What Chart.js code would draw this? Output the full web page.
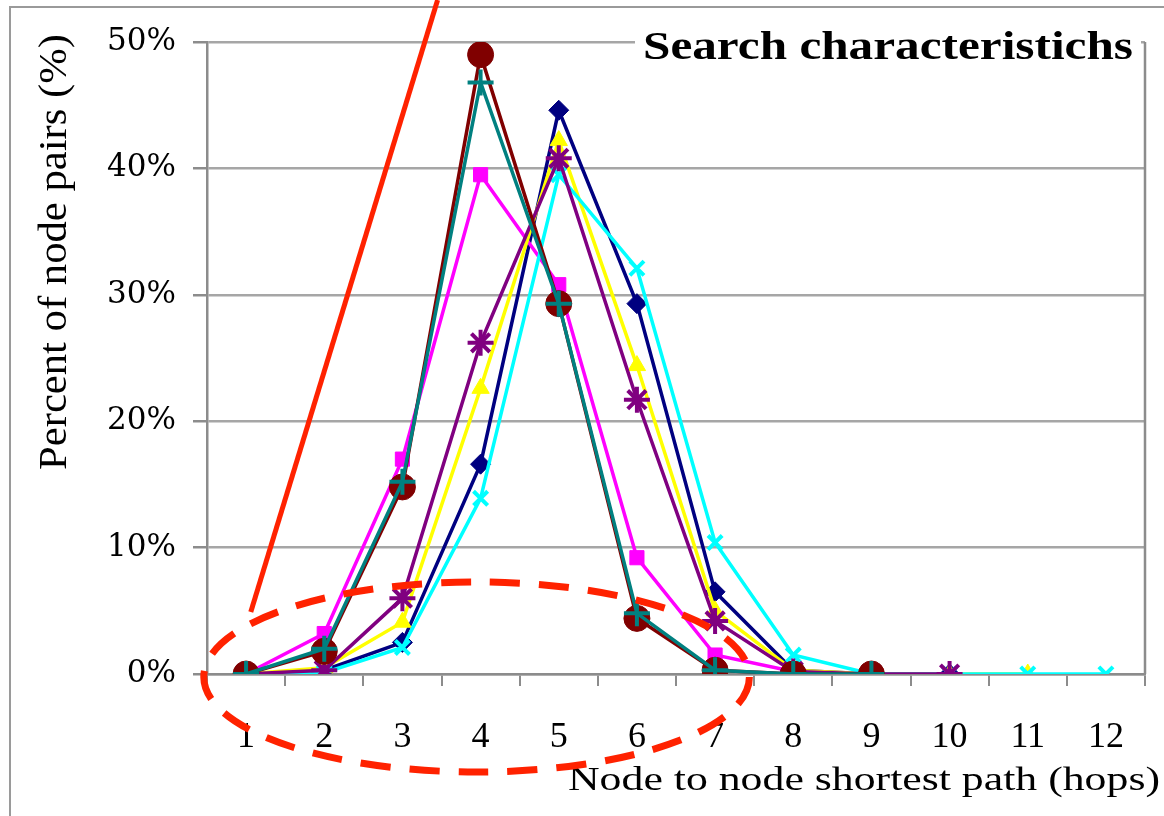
<!DOCTYPE html>
<html>
<head>
<meta charset="utf-8">
<script src="https://cdn.jsdelivr.net/npm/chart.js@4"></script>
<style>
  html, body { margin: 0; padding: 0; background: #ffffff; }
  #wrap { width: 1164px; height: 816px; position: relative; }
</style>
</head>
<body>
<div id="wrap"><canvas id="c" width="1164" height="816"></canvas></div>
<script>
// ---- data ----
const categories = ['1','2','3','4','5','6','7','8','9','10','11','12'];
const seriesNavy    = [0, 0.3, 2.5, 16.6, 44.6, 29.3, 6.5, 0.3, 0, 0, null, null];
const seriesMagenta = [0, 3.2, 17.0, 39.5, 30.8, 9.2, 1.5, 0.2, 0, null, null, null];
const seriesYellow  = [0, 0.5, 4.1, 22.6, 42.2, 24.4, 5.0, 0.3, 0, 0, 0, null];
const seriesCyan    = [0, 0.1, 2.1, 13.9, 39.5, 32.1, 10.4, 1.5, 0, 0, 0, 0];
const seriesPurple  = [0, 0.3, 6.0, 26.2, 40.8, 21.7, 4.2, 0.2, 0, 0, null, null];
const seriesMaroon  = [0, 1.8, 14.8, 49.0, 29.3, 4.4, 0.3, 0, 0, null, null, null];
const seriesTeal    = [0, 2.0, 15.2, 46.8, 29.3, 4.8, 0.3, 0, 0, null, null, null];
const yTicks = [0, 10, 20, 30, 40, 50];
const chartTitle = 'Search characteristichs';
const yTitle = 'Percent of node pairs (%)';
const xTitle = 'Node to node shortest path (hops)';

const SERIF = '"Liberation Serif", "Times New Roman", serif';
const WIDE_SERIF = '"DejaVu Serif", "Liberation Serif", serif';

function ds(data, color, style, radius, idx) {
  return {
    data: data,
    borderColor: color,
    backgroundColor: color,
    pointBackgroundColor: color,
    pointBorderColor: color,
    pointStyle: style,
    pointRadius: radius,
    pointBorderWidth: (style === 'cross' || style === 'crossRot' || style === 'star') ? 4 : 1,
    borderWidth: 3.5,
    tension: 0,
    spanGaps: false,
    order: 10 - idx
  };
}

const datasets = [
  ds(seriesNavy,    '#000080', 'rectRot',  10, 0),
  ds(seriesMagenta, '#FF00FF', 'rect',     10, 1),
  ds(seriesYellow,  '#FFFF00', 'triangle', 10, 2),
  ds(seriesCyan,    '#00FFFF', 'crossRot', 10, 3),
  ds(seriesPurple,  '#800080', 'star',     13, 4),
  ds(seriesMaroon,  '#800000', 'circle',   13, 5),
  ds(seriesTeal,    '#008080', 'cross',    13, 6)
];

// draw text stretched horizontally to a target width (the source chart's text is wide)
function stretchedText(ctx, text, x, y, font, targetWidth, align) {
  ctx.save();
  ctx.font = font;
  const w = ctx.measureText(text).width;
  const s = targetWidth / w;
  ctx.textBaseline = 'middle';
  ctx.textAlign = 'left';
  let left = x;
  if (align === 'right') left = x - targetWidth;
  else if (align === 'center') left = x - targetWidth / 2;
  ctx.translate(left, y);
  ctx.scale(s, 1);
  ctx.fillText(text, 0, 0);
  ctx.restore();
}

const overlay = {
  id: 'overlay',
  beforeDraw(chart) {
    const ctx = chart.ctx;
    ctx.save();
    ctx.fillStyle = '#ffffff';
    ctx.fillRect(0, 0, chart.width, chart.height);
    // outer chart frame
    ctx.strokeStyle = '#9a9a9a';
    ctx.lineWidth = 2;
    ctx.strokeRect(10, 7, chart.width + 20, chart.height + 20);
    ctx.restore();
  },
  afterDatasetsDraw(chart) {
    const ctx = chart.ctx;
    const xs = chart.scales.x, ys = chart.scales.y;
    const a = chart.chartArea;
    ctx.save();
    // plot-area border (right side)
    ctx.strokeStyle = '#8c8c8c';
    ctx.lineWidth = 2.5;
    ctx.beginPath();
    ctx.moveTo(a.right, a.top);
    ctx.lineTo(a.right, a.bottom);
    ctx.stroke();

    // title with white box (sits over the top gridline)
    const titleW = 490;
    const tx = a.right - 12, ty = a.top + 7;
    ctx.fillStyle = '#ffffff';
    ctx.fillRect(tx - titleW - 8, ty - 22, titleW + 16, 44);
    ctx.fillStyle = '#000000';
    stretchedText(ctx, chartTitle, tx, ty, 'bold 39px ' + SERIF, titleW, 'right');

    // y axis title (rotated)
    ctx.save();
    ctx.translate(55, 252);
    ctx.rotate(-Math.PI / 2);
    ctx.fillStyle = '#000000';
    stretchedText(ctx, yTitle, 0, 0, '40px ' + SERIF, 436, 'center');
    ctx.restore();

    // x axis title (right aligned)
    ctx.fillStyle = '#000000';
    stretchedText(ctx, xTitle, chart.width - 4, 781, '34px ' + SERIF, 592, 'right');

    // red annotation: solid pointer line
    const step = xs.getPixelForValue(1) - xs.getPixelForValue(0);
    const x0 = xs.getPixelForValue(0);
    ctx.strokeStyle = '#FF2200';
    ctx.lineWidth = 5;
    ctx.lineCap = 'butt';
    ctx.beginPath();
    ctx.moveTo(x0 + 0.06 * step, ys.getPixelForValue(4.9));
    ctx.lineTo(x0 + 2.45 * step, 0);
    ctx.stroke();

    // red annotation: dashed ellipse around the low-hop region
    const cx = xs.getPixelForValue(3) - 4;
    const cy = ys.getPixelForValue(0) + 3;
    ctx.lineWidth = 7;
    ctx.setLineDash([30, 19]);
    ctx.beginPath();
    ctx.ellipse(cx, cy, 3.49 * step, 95, 0, 0, Math.PI * 2);
    ctx.stroke();
    ctx.setLineDash([]);
    ctx.restore();
  }
};

new Chart(document.getElementById('c'), {
  type: 'line',
  data: { labels: categories, datasets: datasets },
  options: {
    responsive: false,
    animation: false,
    devicePixelRatio: 1,
    layout: { padding: { left: 0, top: 42, right: 19, bottom: 0 } },
    plugins: { legend: { display: false }, tooltip: { enabled: false }, title: { display: false } },
    scales: {
      x: {
        type: 'category',
        offset: true,
        afterFit(scale) { scale.height = 142; },
        border: { display: true, color: '#8c8c8c', width: 2.5 },
        grid: { offset: true, drawOnChartArea: false, drawTicks: true, tickLength: 12, color: '#8c8c8c', lineWidth: 2 },
        ticks: { color: '#000000', padding: 30, font: { family: SERIF, size: 36 }, maxRotation: 0, autoSkip: false }
      },
      y: {
        min: 0,
        max: 50,
        afterFit(scale) { scale.width = 207; },
        afterBuildTicks(scale) { scale.ticks = yTicks.map(v => ({ value: v })); },
        border: { display: true, color: '#8c8c8c', width: 2.5 },
        grid: { color: '#a6a6a6', lineWidth: 2.5, drawTicks: true, tickLength: 14, tickColor: '#8c8c8c' },
        ticks: { color: '#000000', padding: 17, font: { family: WIDE_SERIF, size: 31 }, callback: v => v + '%' }
      }
    }
  },
  plugins: [overlay]
});
</script>
</body>
</html>
